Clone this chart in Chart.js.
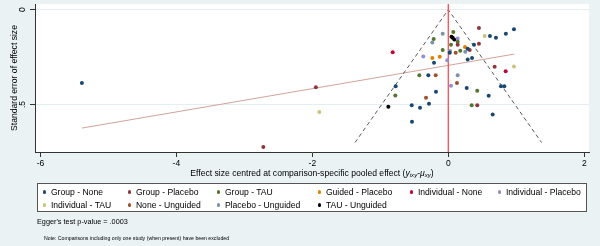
<!DOCTYPE html>
<html>
<head>
<meta charset="utf-8">
<script src="https://cdn.jsdelivr.net/npm/chart.js@4.4.0/dist/chart.umd.min.js"></script>
<style>
  body { margin: 0; background: #eaf2f3; font-family: "Liberation Sans", Arial, sans-serif; color: #000; }
  #wrap { position: relative; width: 600px; height: 246px; overflow: hidden; }
  #funnel { position: absolute; left: 0; top: 0; }
  #xtitle { position: absolute; left: 35px; width: 554px; top: 168px; text-align: center; font-size: 8.6px; line-height: 11px; white-space: nowrap; }
  #xtitle sub { font-size: 70%; vertical-align: -1px; line-height: 0; }
  #legend { position: absolute; left: 37px; top: 183px; border: 1px solid #555; background: #fff; display: grid;
            grid-template-columns: 85px 89px 101px 92px 88px 1fr; grid-auto-rows: 13px; padding: 1.5px 0 0 4.5px;
            box-sizing: border-box; height: 29px; width: 550px; }
  .item { display: flex; align-items: center; font-size: 8.6px; white-space: nowrap; }
  .dot { width: 3.4px; height: 3.4px; border-radius: 50%; margin-right: 5px; flex: none; }
  #egger { position: absolute; left: 37px; top: 217px; font-size: 7.3px; line-height: 10px; }
  #note { position: absolute; left: 44px; top: 235px; font-size: 5.2px; line-height: 6px; }
</style>
</head>
<body>
<div id="wrap">
  <canvas id="funnel" width="600" height="246"></canvas>
  <div id="xtitle">Effect size centred at comparison-specific pooled effect (<i>y</i><sub><i>ixy</i></sub>-<i>μ</i><sub><i>xy</i></sub>)</div>
  <div id="legend"></div>
  <div id="egger">Egger's test p-value = .0003</div>
  <div id="note">Note: Comparisons including only one study (when present) have been excluded</div>
</div>
<script>
// comparison groups, as in the legend
const groupNames = ['Group - None', 'Group - Placebo', 'Group - TAU', 'Guided - Placebo', 'Individual - None',
    'Individual - Placebo', 'Individual - TAU', 'None - Unguided', 'Placebo - Unguided', 'TAU - Unguided'];

// [centred effect size, standard error] for each study
const groupNone = [[-5.39, 0.387], [-0.774, 0.403], [0.613, 0.138], [0.701, 0.148], [0.847, 0.127], [0.966, 0.103],
    [0.378, 0.185], [0.285, 0.206], [0.021, 0.227], [-0.21, 0.28], [0.285, 0.262], [0.349, 0.255], [-0.294, 0.346],
    [0.271, 0.413], [-0.181, 0.433], [0.775, 0.403], [0.824, 0.403], [0.594, 0.454], [-0.538, 0.503],
    [-0.416, 0.517], [-0.284, 0.496], [0.653, 0.552], [-0.534, 0.591]];
const groupPlacebo = [[-1.948, 0.409], [-2.721, 0.724], [0.451, 0.096], [0.138, 0.185], [0.451, 0.18], [0.315, 0.212],
    [0.682, 0.301], [0.426, 0.503]];
const groupTau = [[-0.779, 0.452], [0.074, 0.117], [-0.215, 0.154], [0.138, 0.169], [0.04, 0.185], [-0.082, 0.212],
    [0.176, 0.217], [-0.426, 0.345], [0.426, 0.427], [0.344, 0.503]];
const guidedPlacebo = [[0.246, 0.196], [-0.235, 0.255], [-0.126, 0.248]];
const individualNone = [[-0.818, 0.224], [0.844, 0.324]];
const individualPlacebo = [[0.138, 0.152], [-0.368, 0.247], [-0.015, 0.267], [0.04, 0.401]];
const individualTau = [[-1.897, 0.539], [0.535, 0.138], [0.966, 0.299]];
const noneUnguided = [[0.109, 0.227], [-0.185, 0.345], [0.128, 0.387], [-0.328, 0.464]];
const placeboUnguided = [[-0.082, 0.127], [-0.235, 0.173], [0.025, 0.218], [0.25, 0.222], [0.138, 0.345]];
const tauUnguided = [[-0.882, 0.512], [0.047, 0.142], [0.065, 0.148], [0.088, 0.157]];

// Egger regression line and 95% pseudo confidence funnel
const eggerX = [-5.39, 0.97];
const eggerY = [0.624, 0.234];
const funnelX = [-1.372, 0, 1.372];
const funnelY = [0.7, 0, 0.7];

// axes
const xTicks = [-6, -4, -2, 0, 2];
const yTicks = [0, 0.5];
const yTickLabels = ['0', '.5'];
const xRange = [-6.08, 2.07];
const yRange = [-0.03, 0.75];

const series = [groupNone, groupPlacebo, groupTau, guidedPlacebo, individualNone,
    individualPlacebo, individualTau, noneUnguided, placeboUnguided, tauUnguided];
const colors = ['#1a476f', '#90353b', '#55752f', '#e37e00', '#c10534',
    '#938dd2', '#cac27e', '#a0522d', '#7b92a8', '#000000'];

// html legend
const legendEl = document.getElementById('legend');
groupNames.forEach((name, i) => {
    const item = document.createElement('div');
    item.className = 'item';
    item.innerHTML = `<span class="dot" style="background:${colors[i]}"></span>${name}`;
    legendEl.appendChild(item);
});

Chart.defaults.font.family = '"Liberation Sans", Arial, sans-serif';
Chart.defaults.color = '#000';

// white plot region
const plotBg = {
    id: 'plotBg',
    beforeDraw(chart) {
        const { ctx, chartArea: a } = chart;
        ctx.save();
        ctx.fillStyle = '#fff';
        ctx.fillRect(a.left, a.top, a.right - a.left, a.bottom - a.top);
        ctx.restore();
    }
};

// vertical y tick labels, like stata
const yLabels = {
    id: 'yLabels',
    afterDraw(chart) {
        const { ctx } = chart;
        const y = chart.scales.y;
        ctx.save();
        ctx.font = '8.5px "Liberation Sans", Arial';
        ctx.fillStyle = '#000';
        ctx.textAlign = 'center';
        ctx.textBaseline = 'middle';
        yTicks.forEach((v, i) => {
            ctx.save();
            ctx.translate(23, y.getPixelForValue(v));
            ctx.rotate(-Math.PI / 2);
            ctx.fillText(yTickLabels[i], 0, 0);
            ctx.restore();
        });
        ctx.restore();
    }
};

const datasets = series.map((pts, i) => ({
    label: groupNames[i],
    data: pts.map(p => ({ x: p[0], y: p[1] })),
    backgroundColor: colors[i],
    borderWidth: 0,
    pointRadius: 2,
}));

datasets.push({
    type: 'line',
    label: 'zero',
    data: yRange.map(v => ({ x: 0, y: v })),
    borderColor: '#ff4d4d',
    borderWidth: 1.3,
    pointRadius: 0,
});
datasets.push({
    type: 'line',
    label: 'funnel',
    data: funnelX.map((x, i) => ({ x: x, y: funnelY[i] })),
    borderColor: '#5a5a5a',
    borderWidth: 1,
    borderDash: [4, 3],
    pointRadius: 0,
});
datasets.push({
    type: 'line',
    label: 'egger',
    data: eggerX.map((x, i) => ({ x: x, y: eggerY[i] })),
    borderColor: '#d3a39b',
    borderWidth: 1,
    pointRadius: 0,
});

new Chart(document.getElementById('funnel'), {
    type: 'scatter',
    data: { datasets: datasets },
    options: {
        responsive: false,
        animation: false,
        layout: { padding: { left: 0, right: 11, top: 4, bottom: 74 } },
        plugins: { legend: { display: false }, tooltip: { enabled: false } },
        scales: {
            x: {
                type: 'linear',
                min: xRange[0],
                max: xRange[1],
                afterBuildTicks: (scale) => { scale.ticks = xTicks.map(v => ({ value: v })); },
                afterFit: (scale) => { scale.height = 20; },
                ticks: { font: { size: 8.5 }, padding: 2, maxRotation: 0, callback: (v) => String(v) },
                grid: { drawOnChartArea: false, tickLength: 5, tickColor: '#333' },
                border: { color: '#333', width: 1 },
            },
            y: {
                type: 'linear',
                reverse: true,
                min: yRange[0],
                max: yRange[1],
                afterBuildTicks: (scale) => { scale.ticks = yTicks.map(v => ({ value: v })); },
                afterFit: (scale) => { scale.width = 35; },
                ticks: { display: false },
                grid: { color: '#e3eef0', tickColor: '#333', tickLength: 5 },
                border: { color: '#333', width: 1 },
                title: {
                    display: true,
                    text: 'Standard error of effect size',
                    font: { size: 8.6 },
                    padding: { top: 9, bottom: 0 },
                },
            },
        },
    },
    plugins: [plotBg, yLabels],
});
</script>
</body>
</html>
